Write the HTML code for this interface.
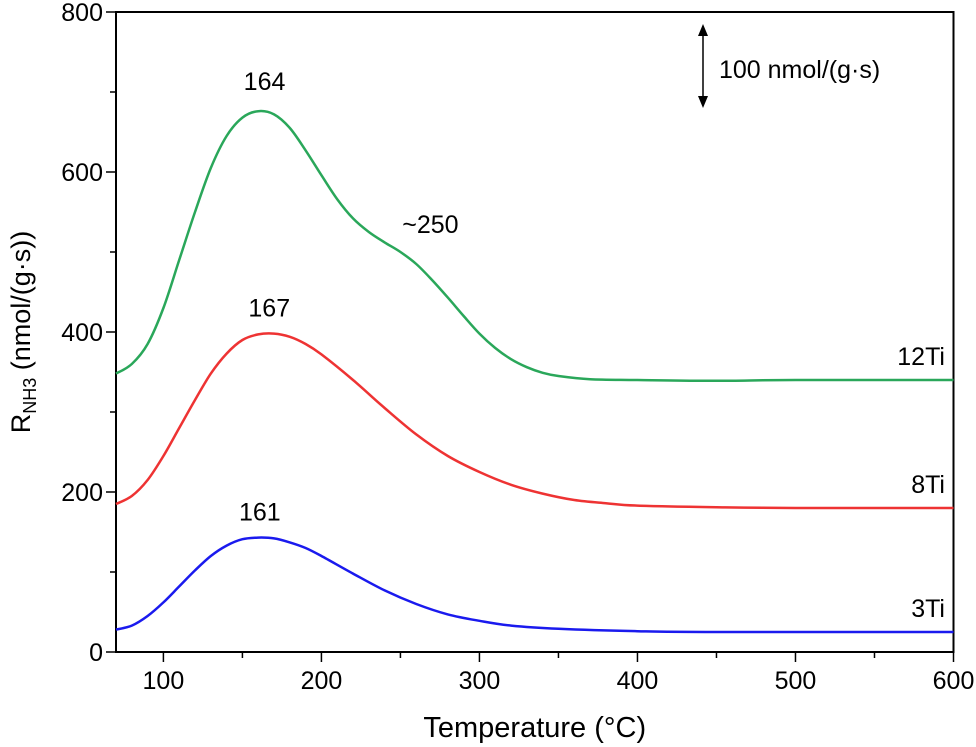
<!DOCTYPE html>
<html><head><meta charset="utf-8"><style>
body{margin:0;background:#fff}
svg{display:block;font-family:"Liberation Sans",Arial,sans-serif}
</style></head><body>
<svg id="chart" width="976" height="747" viewBox="0 0 976 747">
<g id="axes"></g><g id="series"></g><g id="ann"></g>
</svg>
<script>
const xTicks=[100,200,300,400,500,600];
const yTicks=[0,200,400,600,800];
const seriesNames=["12Ti","8Ti","3Ti"];
const seriesColors=["#2aa75a","#ee3333","#1a1aee"];
const t12=[70,80,90,100,110,120,130,140,150,160,170,180,190,200,210,220,230,240,250,260,270,280,290,300,310,320,330,340,350,370,400,450,500,600];
const v12=[348,360,385,430,490,550,605,645,668,676,672,655,627,596,566,542,525,512,500,485,465,443,420,398,380,366,356,349,345,341,340,339,340,340];
const t8=[70,80,90,100,110,120,130,140,150,160,170,180,190,200,220,240,260,280,300,320,340,360,380,400,450,500,600];
const v8=[185,195,215,245,280,315,348,373,390,397,398,394,385,372,340,305,272,245,225,209,198,190,186,183,181,180,180];
const t3=[70,80,90,100,110,120,130,140,150,160,170,180,190,200,220,240,260,280,300,320,350,400,450,600];
const v3=[28,33,45,62,82,102,120,133,141,143,142,137,130,120,98,77,60,47,39,33,29,26,25,25];
const peakLabels=["164","~250","167","161"];
const peakT=[164,250,167,161];
const peakV=[676,500,398,143];

const X0=70,X1=600,Y0=0,Y1=800;
const PL=116,PR=953.5,PT=12,PB=652;
const sx=t=>PL+(t-X0)/(X1-X0)*(PR-PL);
const sy=v=>PB-(v-Y0)/(Y1-Y0)*(PB-PT);
const NS="http://www.w3.org/2000/svg";
function mk(tag,attrs,parent,text){const e=document.createElementNS(NS,tag);for(const k in attrs)e.setAttribute(k,attrs[k]);if(text!==undefined)e.textContent=text;parent.appendChild(e);return e;}
const axes=document.getElementById('axes'),ser=document.getElementById('series'),ann=document.getElementById('ann');

let a=mk('rect',{x:PL,y:PT,width:PR-PL,height:PB-PT,fill:'none',stroke:'#000','stroke-width':2},axes);


for(let t=100;t<=600;t+=50){const major=t%100===0;
 let l=mk('line',{x1:sx(t),x2:sx(t),y1:PB,y2:PB+(major?10:6),stroke:'#000','stroke-width':1.5},axes);
 
 }
xTicks.forEach(t=>{let e=mk('text',{x:sx(t),y:PB+37,'font-size':25,'text-anchor':'middle'},axes,String(t));
 
 });
for(let v=0;v<=800;v+=100){const major=v%200===0;
 let l=mk('line',{x1:PL-(major?10:6),x2:PL,y1:sy(v),y2:sy(v),stroke:'#000','stroke-width':1.5},axes);
 
 }
yTicks.forEach(v=>{let e=mk('text',{x:PL-13,y:sy(v)+9,'font-size':25,'text-anchor':'end'},axes,String(v));
 
 });
let xt=mk('text',{x:(PL+PR)/2,y:737,'font-size':29,'text-anchor':'middle'},axes,'Temperature (°C)');


let yt=mk('text',{transform:`translate(30,${(PT+PB)/2}) rotate(-90)`,'font-size':27,'text-anchor':'middle'},axes);


mk('tspan',{},yt,'R');mk('tspan',{'font-size':18,dy:6},yt,'NH3');mk('tspan',{dy:-6},yt,' (nmol/(g·s))');

function smooth(ts,vs){const p=ts.map((t,i)=>[sx(t),sy(vs[i])]);let d=`M${p[0][0]},${p[0][1]}`;
 for(let i=0;i<p.length-1;i++){const p0=p[Math.max(i-1,0)],p1=p[i],p2=p[i+1],p3=p[Math.min(i+2,p.length-1)];
  const c1=[p1[0]+(p2[0]-p0[0])/6,p1[1]+(p2[1]-p0[1])/6],c2=[p2[0]-(p3[0]-p1[0])/6,p2[1]-(p3[1]-p1[1])/6];
  d+=`C${c1[0]},${c1[1]} ${c2[0]},${c2[1]} ${p2[0]},${p2[1]}`;}return d;}
const data=[[t12,v12],[t8,v8],[t3,v3]];
const labY=[340,180,25];
data.forEach((s,i)=>{let p=mk('path',{d:smooth(s[0],s[1]),fill:'none',stroke:seriesColors[i],'stroke-width':2.5},ser);
 
 
 let l=mk('text',{x:945,y:sy(labY[i])-15,'font-size':25,'text-anchor':'end'},ann,seriesNames[i]);
 
 });
const offs=[[0,-21],[30,-19],[0,-17],[0,-17]];
peakLabels.forEach((s,i)=>{let e=mk('text',{x:sx(peakT[i])+offs[i][0],y:sy(peakV[i])+offs[i][1],'font-size':25,'text-anchor':'middle'},ann,s);
 
 });
let sb=mk('g',{},ann);


mk('line',{x1:703,x2:703,y1:32,y2:100,stroke:'#000','stroke-width':1.5},sb);
mk('path',{d:'M698,36L703,24L708,36Z M698,96L703,108L708,96Z',fill:'#000'},sb);
mk('text',{x:719,y:78,'font-size':25},sb,'100 nmol/(g·s)');
</script>
</body></html>
